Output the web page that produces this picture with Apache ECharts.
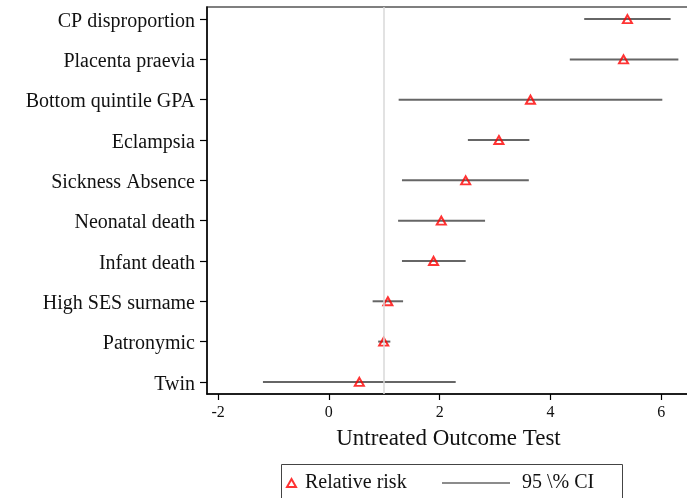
<!DOCTYPE html>
<html>
<head>
<meta charset="utf-8">
<script src="https://cdn.jsdelivr.net/npm/echarts@6/dist/echarts.min.js"></script>
<style>
  html, body { margin: 0; padding: 0; background: #fff; }
  #chart { width: 687px; height: 498px; }
</style>
</head>
<body>
<div id="chart"></div>
<script>
// bottom to top
const outcomes = ["Twin", "Patronymic", "High SES surname", "Infant death", "Neonatal death",
  "Sickness Absence", "Eclampsia", "Bottom quintile GPA", "Placenta praevia", "CP disproportion"];
const relRisk = [0.55, 0.99, 1.065, 1.89, 2.03, 2.47, 3.07, 3.64, 5.32, 5.39];
const ciLow = [-1.19, 0.89, 0.79, 1.32, 1.25, 1.32, 2.51, 1.26, 4.35, 4.61];
const ciHigh = [2.29, 1.11, 1.34, 2.47, 2.82, 3.61, 3.62, 6.02, 6.31, 6.17];
const xTicks = [-2, 0, 2, 4, 6];
const rowPos = outcomes.map((_, i) => i + 1);

const font = "'Liberation Serif', 'DejaVu Serif', serif";
const chart = echarts.init(document.getElementById("chart"));

const option = {
  animation: false,
  grid: {
    left: 207, right: -3, top: 7, bottom: 104,
    outerBoundsMode: "none", containLabel: false,
    show: true, borderColor: "#555", borderWidth: 1.5
  },
  xAxis: {
    type: "value", min: -2.2, max: 6.52,
    name: "Untreated Outcome Test", nameLocation: "middle", nameGap: 33,
    nameTextStyle: { fontFamily: font, fontSize: 23, color: "#111" },
    axisLine: { show: true, onZero: false, lineStyle: { color: "#000", width: 1.5 } },
    axisTick: { show: true, length: 6, customValues: xTicks, lineStyle: { color: "#000", width: 1.2 } },
    axisLabel: { customValues: xTicks, fontFamily: font, fontSize: 16, color: "#111", margin: 11 },
    splitLine: { show: false }
  },
  yAxis: {
    type: "value", min: 0.7, max: 10.3,
    axisLine: { show: true, onZero: false, lineStyle: { color: "#000", width: 1.5 } },
    axisTick: { show: true, length: 7, customValues: rowPos, lineStyle: { color: "#000", width: 1.2 } },
    axisLabel: {
      customValues: rowPos, margin: 12,
      formatter: (v) => "{a|" + outcomes[Math.round(v) - 1] + "}",
      rich: { a: { fontFamily: font, fontSize: 20, color: "#111", padding: [5, 0, 0, 0] } }
    },
    splitLine: { show: false }
  },
  legend: [
    {
      data: [{ name: "Relative risk", icon: "triangle" }],
      left: 286, top: 473, padding: 0, itemWidth: 9, itemHeight: 8,
      textStyle: { fontFamily: font, fontSize: 20, color: "#111", padding: [0, 0, 0, 4] }
    },
    {
      data: [{ name: "95 \\% CI", icon: "rect" }],
      left: 442, top: 473, padding: 0, itemWidth: 68, itemHeight: 1.5,
      textStyle: { fontFamily: font, fontSize: 20, color: "#111", padding: [0, 0, 0, 7] }
    }
  ],
  graphic: [{
    type: "rect", left: 279, top: 462, z: 100,
    shape: { width: 341, height: 50 },
    style: { fill: "none", stroke: "#444", lineWidth: 1 }
  }],
  series: [
    {
      name: "95 \\% CI",
      type: "custom",
      itemStyle: { color: "#666" },
      data: rowPos.map((y, i) => [ciLow[i], ciHigh[i], y]),
      encode: { x: [0, 1], y: 2 },
      renderItem: (params, api) => {
        const a = api.coord([api.value(0), api.value(2)]);
        const b = api.coord([api.value(1), api.value(2)]);
        return {
          type: "line",
          shape: { x1: a[0], y1: a[1], x2: b[0], y2: b[1] },
          style: { stroke: "#666", lineWidth: 2 }
        };
      },
      markLine: {
        silent: true, symbol: "none", label: { show: false },
        lineStyle: { color: "#d9d9d9", width: 1.5, type: "solid" },
        data: [{ xAxis: 1 }]
      },
      z: 2
    },
    {
      name: "Relative risk",
      type: "scatter",
      symbol: "triangle",
      symbolSize: [9, 8],
      itemStyle: { color: "rgba(255,255,255,0)", borderColor: "#ff0000", borderWidth: 2 },
      data: rowPos.map((y, i) => [relRisk[i], y]),
      z: 3
    }
  ]
};

chart.setOption(option);
</script>
</body>
</html>
